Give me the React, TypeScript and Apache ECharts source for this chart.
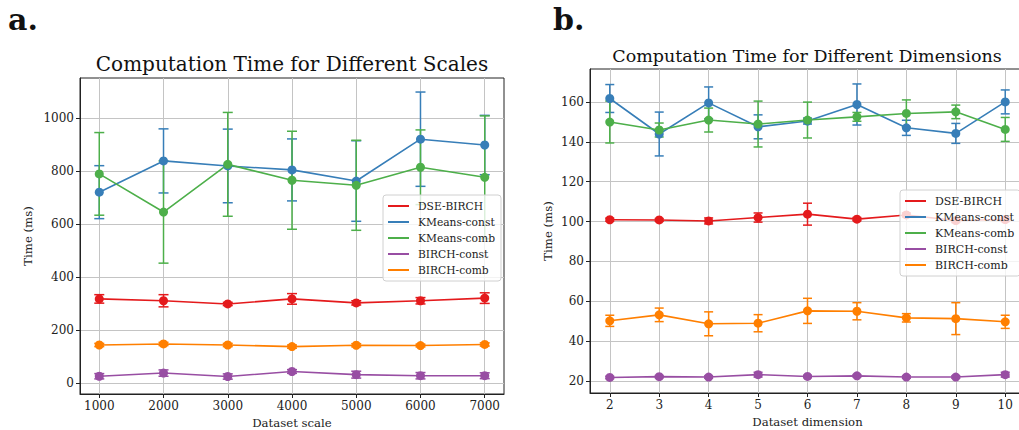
import React, { useEffect, useRef } from "react";
import * as echarts from "echarts";

// ---------- data ----------
const seriesNames = ["DSE-BIRCH", "KMeans-const", "KMeans-comb", "BIRCH-const", "BIRCH-comb"];
const colors = ["#e41a1c", "#377eb8", "#4daf4a", "#984ea3", "#ff7f00"];

// Panel a: dataset scale
const scales = [1000, 2000, 3000, 4000, 5000, 6000, 7000];
const dseA = [317, 310, 298, 317, 302, 310, 320];
const dseAErr = [16, 23, 6, 20, 8, 12, 20];
const kconstA = [720, 838, 819, 804, 762, 920, 898];
const kconstAErr = [100, 121, 139, 117, 152, 178, 112];
const kcombA = [789, 645, 825, 765, 746, 814, 776];
const kcombAErr = [156, 193, 196, 185, 170, 141, 232];
const bconstA = [25, 37, 24, 43, 31, 27, 27];
const bconstAErr = [10, 12, 10, 7, 13, 12, 11];
const bcombA = [143, 147, 143, 137, 142, 141, 145];
const bcombAErr = [6, 6, 6, 6, 6, 5, 6];
const scaleTicks = [1000, 2000, 3000, 4000, 5000, 6000, 7000];
const timeTicksA = [0, 200, 400, 600, 800, 1000];

// Panel b: dataset dimension
const dims = [2, 3, 4, 5, 6, 7, 8, 9, 10];
const dseB = [100.9, 100.8, 100.3, 102.0, 103.7, 101.2, 103.3, 100.5, 101.0];
const dseBErr = [0.8, 0.7, 1.5, 2.3, 5.5, 0.8, 1.0, 1.0, 1.0];
const kconstB = [161.7, 143.9, 159.5, 147.5, 150.4, 158.7, 147.0, 144.2, 160.0];
const kconstBErr = [7, 11, 8, 6, 1.5, 10.3, 3.8, 5, 6];
const kcombB = [149.9, 145.9, 150.9, 148.9, 150.9, 152.5, 154.2, 155.0, 146.2];
const kcombBErr = [10.5, 3.5, 6, 11.5, 9, 2.2, 6.8, 3.4, 6];
const bconstB = [21.8, 22.2, 22.0, 23.2, 22.3, 22.6, 22.0, 22.0, 23.2];
const bconstBErr = [0.6, 0.6, 0.6, 1.2, 0.6, 0.6, 0.6, 0.6, 1.2];
const bcombB = [50.2, 53.2, 48.7, 49.0, 55.2, 55.0, 51.7, 51.3, 49.7];
const bcombBErr = [2.8, 3.4, 6, 4.3, 6.3, 4.3, 2.1, 8, 3.3];
const dimTicks = [2, 3, 4, 5, 6, 7, 8, 9, 10];
const timeTicksB = [20, 40, 60, 80, 100, 120, 140, 160];

const FONT = "DejaVu Serif";
const INK = "#222222";

function buildSeries(gridIndex: number, xs: number[], vals: number[][], errs: number[][], cap: number) {
  const out: any[] = [];
  vals.forEach((v, j) => {
    const color = colors[j];
    out.push({
      type: "custom",
      name: seriesNames[j] + " err",
      xAxisIndex: gridIndex,
      yAxisIndex: gridIndex,
      encode: { x: 0, y: [1, 2] },
      data: xs.map((x, i) => [x, v[i] - errs[j][i], v[i] + errs[j][i]]),
      renderItem: (params: any, api: any) => {
        const x = api.value(0);
        const lo = api.coord([x, api.value(1)]);
        const hi = api.coord([x, api.value(2)]);
        const st = { stroke: color, lineWidth: 1.5 };
        return {
          type: "group",
          children: [
            { type: "line", shape: { x1: hi[0], y1: hi[1], x2: lo[0], y2: lo[1] }, style: st },
            { type: "line", shape: { x1: hi[0] - cap, y1: hi[1], x2: hi[0] + cap, y2: hi[1] }, style: st },
            { type: "line", shape: { x1: lo[0] - cap, y1: lo[1], x2: lo[0] + cap, y2: lo[1] }, style: st },
          ],
        };
      },
    });
    out.push({
      type: "line",
      name: seriesNames[j],
      xAxisIndex: gridIndex,
      yAxisIndex: gridIndex,
      data: xs.map((x, i) => [x, v[i]]),
      symbol: "circle",
      symbolSize: 9,
      showSymbol: true,
      lineStyle: { color, width: 1.6 },
      itemStyle: { color },
      emphasis: { disabled: true },
    });
  });
  return out;
}

const plain = (v: number) => String(v);

function xAxis(gridIndex: number, min: number, max: number, ticks: number[], name: string, nameGap: number) {
  return {
    type: "value",
    gridIndex,
    min,
    max,
    name,
    nameLocation: "middle",
    nameGap,
    nameTextStyle: { fontFamily: FONT, fontSize: 11.7, color: INK },
    axisLine: { show: true, onZero: false, lineStyle: { color: INK, width: 1 } },
    axisTick: { show: true, customValues: ticks, length: 4, lineStyle: { color: INK, width: 1 } },
    axisLabel: { customValues: ticks, formatter: plain, fontFamily: FONT, fontSize: 12, color: INK, margin: 6 },
    splitLine: { show: true, lineStyle: { color: "#c4c4c4", width: 1 } },
  };
}

function yAxis(gridIndex: number, min: number, max: number, ticks: number[], nameGap: number) {
  return {
    type: "value",
    gridIndex,
    min,
    max,
    name: "Time (ms)",
    nameLocation: "middle",
    nameGap,
    nameTextStyle: { fontFamily: FONT, fontSize: 11.7, color: INK },
    axisLine: { show: true, onZero: false, lineStyle: { color: INK, width: 1 } },
    axisTick: { show: true, customValues: ticks, length: 4, lineStyle: { color: INK, width: 1 } },
    axisLabel: { customValues: ticks, formatter: plain, fontFamily: FONT, fontSize: 12, color: INK, margin: 6 },
    splitLine: { show: true, lineStyle: { color: "#c4c4c4", width: 1 } },
  };
}

function legend(left: number, top: number, fontSize: number) {
  return {
    data: seriesNames,
    orient: "vertical",
    left,
    top,
    icon: "rect",
    itemWidth: 21,
    itemHeight: 2,
    itemGap: 2,
    padding: [4, 6, 4, 5],
    backgroundColor: "rgba(255,255,255,0.8)",
    borderColor: "#d0d0d0",
    borderWidth: 1,
    borderRadius: 3,
    selectedMode: false,
    textStyle: { fontFamily: FONT, fontSize, color: INK, lineHeight: 14, padding: [0, 0, 0, 4] },
  };
}

export default function App() {
  const ref = useRef<HTMLDivElement>(null);
  useEffect(() => {
    if (!ref.current) return;
    const chart = echarts.init(ref.current, null, { renderer: "svg" });
    const option: any = {
      animation: false,
      backgroundColor: "#ffffff",
      grid: [
        { left: 80, top: 78, width: 424, height: 316, show: true, borderColor: INK, borderWidth: 1, backgroundColor: "transparent", outerBoundsMode: "none", containLabel: false },
        { left: 590, top: 69, width: 435, height: 324, show: true, borderColor: INK, borderWidth: 1, backgroundColor: "transparent", outerBoundsMode: "none", containLabel: false },
      ],
      xAxis: [
        xAxis(0, 700, 7300, scaleTicks, "Dataset scale", 22),
        xAxis(1, 1.6, 10.4, dimTicks, "Dataset dimension", 23),
      ],
      yAxis: [
        yAxis(0, -42, 1151, timeTicksA, 46),
        yAxis(1, 14, 176.5, timeTicksB, 36),
      ],
      legend: [legend(383, 195, 10.7), legend(900, 190, 11)],
      graphic: [
        { type: "text", left: 8, top: 4, style: { text: "a.", font: `bold 30px '${FONT}'`, fill: "#111" } },
        { type: "text", left: 553, top: 4, style: { text: "b.", font: `bold 30px '${FONT}'`, fill: "#111" } },
        { type: "text", x: 292, y: 64, style: { text: "Computation Time for Different Scales", font: `20px '${FONT}'`, fill: "#111", align: "center", verticalAlign: "middle" } },
        { type: "text", x: 807, y: 56, style: { text: "Computation Time for Different Dimensions", font: `17.5px '${FONT}'`, fill: "#111", align: "center", verticalAlign: "middle" } },
      ],
      series: [
        ...buildSeries(0, scales, [dseA, kconstA, kcombA, bconstA, bcombA], [dseAErr, kconstAErr, kcombAErr, bconstAErr, bcombAErr], 5),
        ...buildSeries(1, dims, [dseB, kconstB, kcombB, bconstB, bcombB], [dseBErr, kconstBErr, kcombBErr, bconstBErr, bcombBErr], 4.5),
      ],
    };
    chart.setOption(option);
    return () => chart.dispose();
  }, []);
  return (
    <div
      ref={ref}
      style={{ position: "fixed", left: 0, top: 0, width: 1019, height: 430, background: "#fff" }}
    />
  );
}
